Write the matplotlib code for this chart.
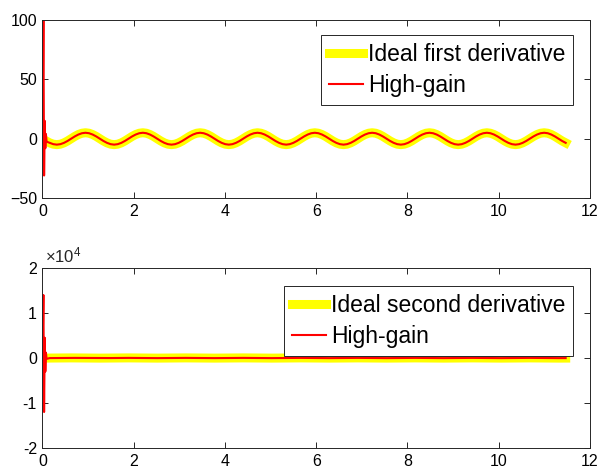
import numpy as np
import matplotlib
matplotlib.use("Agg")
import matplotlib.pyplot as plt
from matplotlib.ticker import FuncFormatter

plt.rcParams['font.family'] = ['Liberation Sans', 'DejaVu Sans']
plt.rcParams['mathtext.fontset'] = 'custom'
plt.rcParams['mathtext.rm'] = 'Liberation Sans'
plt.rcParams['mathtext.it'] = 'Liberation Sans'

# sample grid (1/16 of a period of the sinusoid)
dt = 0.07854
n_samples = 147
t_ideal = np.arange(n_samples) * dt

# ideal first derivative, read at the grid points
first_ideal = [
    0, -1.9, -3.5, -4.6, -5, -4.6, -3.5, -1.9, 0, 1.9, 3.5, 4.6, 5, 4.6, 3.5, 1.9,
    0, -1.9, -3.5, -4.6, -5, -4.6, -3.5, -1.9, 0, 1.9, 3.5, 4.6, 5, 4.6, 3.5, 1.9,
    0, -1.9, -3.5, -4.6, -5, -4.6, -3.5, -1.9, 0, 1.9, 3.5, 4.6, 5, 4.6, 3.5, 1.9,
    0, -1.9, -3.5, -4.6, -5, -4.6, -3.5, -1.9, 0, 1.9, 3.5, 4.6, 5, 4.6, 3.5, 1.9,
    0, -1.9, -3.5, -4.6, -5, -4.6, -3.5, -1.9, 0, 1.9, 3.5, 4.6, 5, 4.6, 3.5, 1.9,
    0, -1.9, -3.5, -4.6, -5, -4.6, -3.5, -1.9, 0, 1.9, 3.5, 4.6, 5, 4.6, 3.5, 1.9,
    0, -1.9, -3.5, -4.6, -5, -4.6, -3.5, -1.9, 0, 1.9, 3.5, 4.6, 5, 4.6, 3.5, 1.9,
    0, -1.9, -3.5, -4.6, -5, -4.6, -3.5, -1.9, 0, 1.9, 3.5, 4.6, 5, 4.6, 3.5, 1.9,
    0, -1.9, -3.5, -4.6, -5, -4.6, -3.5, -1.9, 0, 1.9, 3.5, 4.6, 5, 4.6, 3.5, 1.9,
    0, -1.9, -3.5]

# ideal second derivative (tiny compared to the 1e4 scale)
second_ideal = [
    -25, -23, -18, -10, 0, 10, 18, 23, 25, 23, 18, 10, 0, -10, -18, -23,
    -25, -23, -18, -10, 0, 10, 18, 23, 25, 23, 18, 10, 0, -10, -18, -23,
    -25, -23, -18, -10, 0, 10, 18, 23, 25, 23, 18, 10, 0, -10, -18, -23,
    -25, -23, -18, -10, 0, 10, 18, 23, 25, 23, 18, 10, 0, -10, -18, -23,
    -25, -23, -18, -10, 0, 10, 18, 23, 25, 23, 18, 10, 0, -10, -18, -23,
    -25, -23, -18, -10, 0, 10, 18, 23, 25, 23, 18, 10, 0, -10, -18, -23,
    -25, -23, -18, -10, 0, 10, 18, 23, 25, 23, 18, 10, 0, -10, -18, -23,
    -25, -23, -18, -10, 0, 10, 18, 23, 25, 23, 18, 10, 0, -10, -18, -23,
    -25, -23, -18, -10, 0, 10, 18, 23, 25, 23, 18, 10, 0, -10, -18, -23,
    -25, -23, -18]

# high-gain observer transient (peaking at the start)
t_trans = [0, 0.02, 0.035, 0.05, 0.062, 0.075, 0.09]
first_trans = [0, 100, -31, 15, -8, 4, -2.5]
second_trans = [0, 14000, -12000, 4500, -3000, 1200, -200]

t_hg = np.concatenate([t_trans, t_ideal[2:]])
first_hg = np.concatenate([first_trans, first_ideal[2:]])
second_hg = np.concatenate([second_trans, second_ideal[2:]])

fig = plt.figure(figsize=(6.01, 4.75), dpi=100)
ax1 = fig.add_axes([0.0707, 0.583, 0.911, 0.375])
ax2 = fig.add_axes([0.0707, 0.0568, 0.911, 0.379])

yellow = '#ffff00'
red = '#ff0000'

ax1.plot(t_ideal, first_ideal, color=yellow, lw=6.5, label='Ideal first derivative')
ax1.plot(t_hg, first_hg, color=red, lw=1.5, label='High-gain')
ax1.set_ylim(-50, 100)
ax1.set_yticks([-50, 0, 50, 100])

ax2.plot(t_ideal, second_ideal, color=yellow, lw=6.5, label='Ideal second derivative')
ax2.plot(t_hg, second_hg, color=red, lw=1.5, label='High-gain')
ax2.set_ylim(-20000, 20000)
ax2.set_yticks([-20000, -10000, 0, 10000, 20000])
ax2.yaxis.set_major_formatter(FuncFormatter(lambda v, p: '%g' % (v / 1e4)))
ax2.text(0.005, 1.012, r'$\times 10^{4}$', transform=ax2.transAxes,
         fontsize=12, ha='left', va='bottom', color='#262626')

for ax, anchor in [(ax1, (0.969, 0.916)), (ax2, (0.969, 0.9))]:
    ax.set_xlim(0, 12)
    ax.set_xticks(range(0, 13, 2))
    ax.tick_params(direction='in', length=4.3, width=0.7, top=True, right=True,
                   labelsize=11.5, colors='#262626', labelcolor='black', pad=4)
    for s in ax.spines.values():
        s.set_color('#262626')
        s.set_linewidth(0.7)
    leg = ax.legend(loc='upper right', bbox_to_anchor=anchor, borderaxespad=0,
                    fontsize=16.5, fancybox=False, framealpha=1, edgecolor='#262626',
                    handlelength=1.5, handletextpad=0.2, labelspacing=0.35,
                    borderpad=0.35)
    leg.get_frame().set_linewidth(0.7)

fig.savefig('out.png', dpi=100)
